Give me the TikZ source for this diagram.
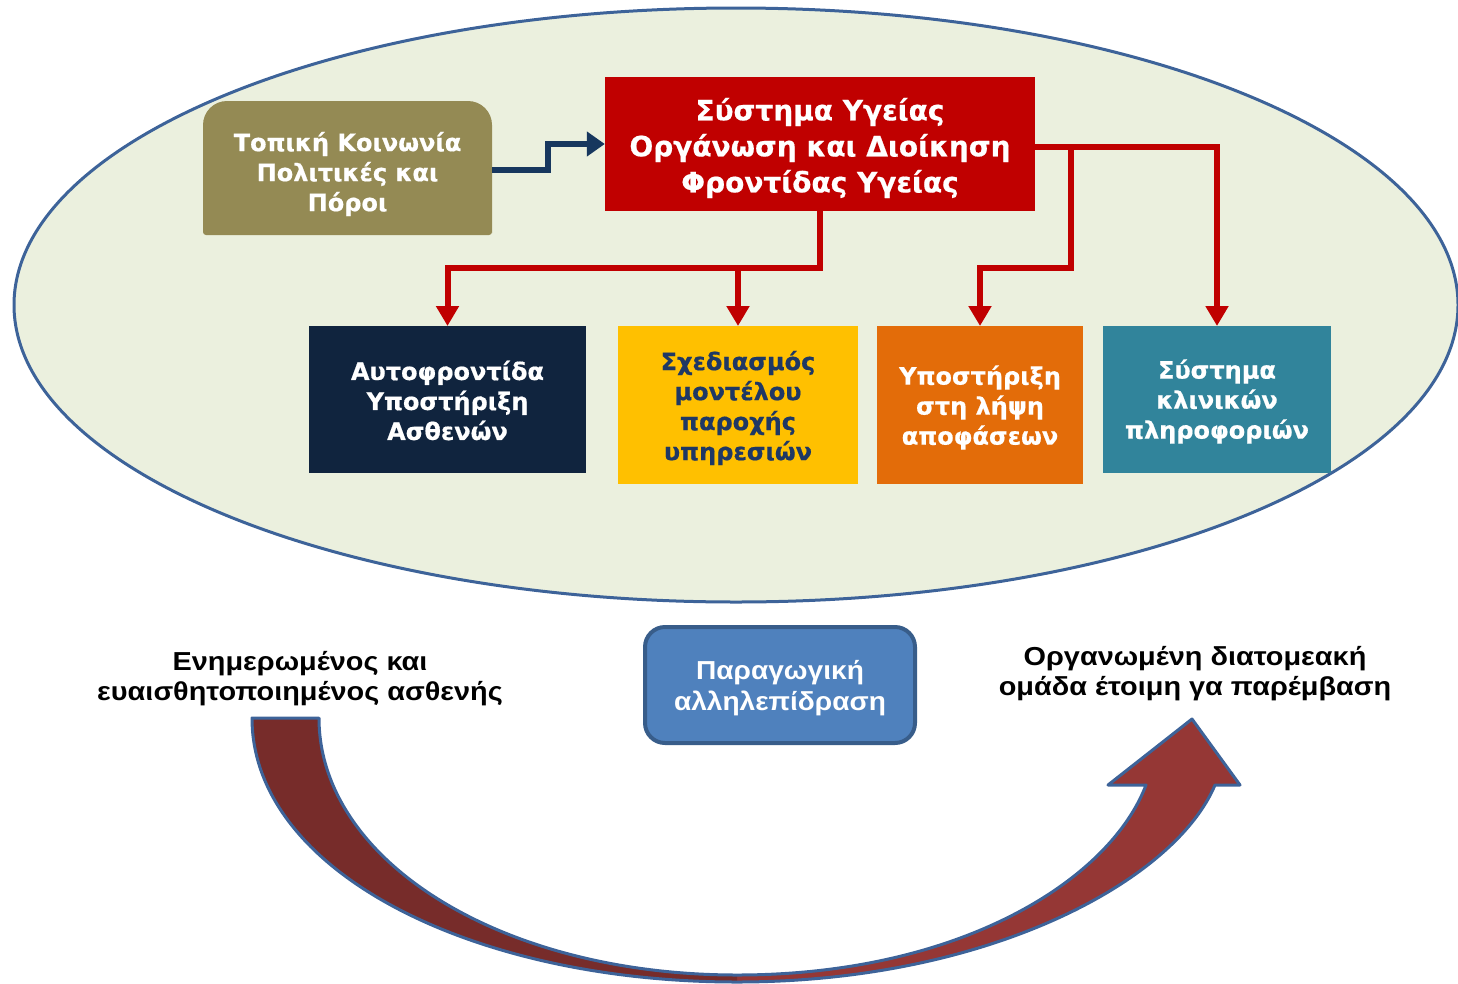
\documentclass[tikz,border=0pt]{standalone}
\usepackage{fontspec}
\newfontfamily\vfont{DejaVu Sans}[FakeBold=0.6]
\newfontfamily\afont{Liberation Sans}[FakeStretch=1.11]
\newfontfamily\bfont{Liberation Sans}[FakeStretch=1.08]
\usetikzlibrary{arrows.meta}
\definecolor{ellfill}{HTML}{EBF0DE}
\definecolor{ellline}{HTML}{3D6399}
\definecolor{olivec}{HTML}{948A54}
\definecolor{redc}{HTML}{C00000}
\definecolor{navyc}{HTML}{10243E}
\definecolor{navyarrow}{HTML}{17375E}
\definecolor{goldc}{HTML}{FFC000}
\definecolor{orangec}{HTML}{E36C09}
\definecolor{tealc}{HTML}{31849B}
\definecolor{darkbluetext}{HTML}{1F3864}
\definecolor{bluebox}{HTML}{4F81BD}
\definecolor{blueboxline}{HTML}{385D8A}
\definecolor{arrdark}{HTML}{772C2A}
\definecolor{arrlight}{HTML}{953735}
\newcommand\bigcurvepath{(252,718) .. controls (252,870) and (470,982) .. (737,982)
  .. controls (990,982) and (1175,880) .. (1215,785)
  -- (1240,785) -- (1192,719) -- (1108,785) -- (1146,785)
  .. controls (1110,880) and (960,975) .. (737,975)
  .. controls (500,975) and (319,860) .. (319,718) -- cycle}
\tikzset{
  boxtext/.style={font=\vfont\bfseries\fontsize{24}{30}\selectfont, text=white, align=center, inner sep=0pt},
  plainbox/.style={inner sep=0pt, anchor=north},
  redarr/.style={draw=redc, line width=6pt, -{Triangle[length=20pt,width=22pt]}},
  navyarr/.style={draw=navyarrow, line width=6pt, -{Triangle[length=18pt,width=24pt]}},
  outtext/.style={font=\afont\bfseries\fontsize{26}{30}\selectfont, text=black, align=center, inner sep=0pt}
}
\begin{document}
\begin{tikzpicture}[x=1pt,y=-1pt]
\useasboundingbox (0,0) rectangle (1458,983);
% big ellipse
\draw[fill=ellfill, draw=ellline, line width=3pt] (736,305) ellipse [x radius=722pt, y radius=297pt];
% olive box shape
\fill[olivec] (492,235) [rounded corners=3pt] -- (203,235) [rounded corners=24pt] -- (203,101) -- (492,101) [rounded corners=3pt] -- (492,235) -- cycle;
\node[boxtext] (olive) at (347.5,174) {Τοπική Κοινωνία\\Πολιτικές και\\Πόροι};
% system box
\node[fill=redc, inner sep=0pt, minimum width=430pt, minimum height=134pt] (sys) at (820,144) {};
\node[boxtext, font=\vfont\bfseries\fontsize{28}{36}\selectfont] (systext) at (820,148) {Σύστημα Υγείας\\Οργάνωση και Διοίκηση\\Φροντίδας Υγείας};
% four boxes
\node[plainbox, fill=navyc, minimum width=277pt, minimum height=147pt] (b1) at (447.5,326) {};
\node[boxtext] (b1text) at (447.5,400.5) {Αυτοφροντίδα\\Υποστήριξη\\Ασθενών};
\node[plainbox, fill=goldc, minimum width=240pt, minimum height=158pt] (b2) at (738,326) {};
\node[boxtext, text=darkbluetext] (b2text) at (738,408) {Σχεδιασμός\\μοντέλου\\παροχής\\υπηρεσιών};
\node[plainbox, fill=orangec, minimum width=206pt, minimum height=158pt] (b3) at (980,326) {};
\node[boxtext] (b3text) at (980,407.5) {Υποστήριξη\\στη λήψη\\αποφάσεων};
\node[plainbox, fill=tealc, minimum width=228pt, minimum height=147pt] (b4) at (1217,326) {};
\node[boxtext] (b4text) at (1217,401.5) {Σύστημα\\κλινικών\\πληροφοριών};
% connectors
\coordinate (j1) at (820,268);
\coordinate (j2) at (1071,268);
\draw[navyarr] (492,170) -- ++(56,0) |- (sys.west);
\draw[redarr] (sys.south) -- (j1) -| (b1.north);
\draw[redarr] (j1) -| (b2.north);
\draw[redarr] (sys.east) ++(0,3) -| (b4.north);
\draw[redarr] (1071,147) -- (j2) -| (b3.north);
% bottom
\node[outtext] (left) at (300,679) {Ενημερωμένος και\\ευαισθητοποιημένος ασθενής};
\node[outtext] (right) at (1195,674) {Οργανωμένη διατομεακή\\ομάδα έτοιμη γα παρέμβαση};
\node[draw=blueboxline, line width=4pt, fill=bluebox, rounded corners=20pt, minimum width=270pt, minimum height=116pt] (inter) at (780,685) {};
\node[font=\bfont\bfseries\fontsize{26}{31}\selectfont, text=white, align=center, inner sep=0pt] (intertext) at (780,688) {Παραγωγική\\αλληλεπίδραση};
% curved arrow
\fill[arrlight] \bigcurvepath;
\begin{scope}
\clip (0,600) rectangle (737,983);
\fill[arrdark] \bigcurvepath;
\end{scope}
\draw[ellline, line width=3pt, line join=round] \bigcurvepath;
\end{tikzpicture}
\end{document}
